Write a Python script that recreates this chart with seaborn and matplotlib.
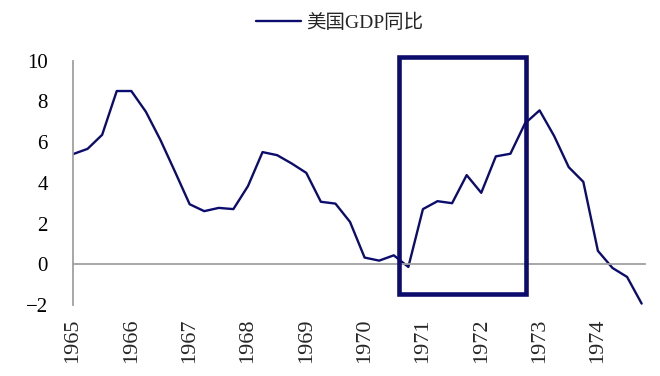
#!/usr/bin/env python
# filename: plot.py

import numpy as np
import pandas as pd

import matplotlib
matplotlib.use('Agg')
import matplotlib.pyplot as plt
from matplotlib.patches import Rectangle
import seaborn as sns

# quarterly US GDP yoy, 1965Q1 - 1974Q4
years = [str(y) for y in range(1965, 1975)]
gdp_yoy = [5.41, 5.67, 6.36, 8.51, 8.51, 7.49, 6.10, 4.54,
           2.95, 2.61, 2.77, 2.71, 3.84, 5.51, 5.36, 4.95,
           4.49, 3.07, 2.98, 2.08, 0.33, 0.18, 0.44, -0.13,
           2.71, 3.10, 3.00, 4.38, 3.51, 5.30, 5.43, 6.92,
           7.56, 6.30, 4.77, 4.05, 0.66, -0.18, -0.62, -1.93]
series_name = '美国GDP同比'

# highlight box (in quarter index / value units)
box_x = [22.35, 31.07]
box_y = [-1.44, 10.2]

navy = '#0c0c6e'
grey = '#a0a0a0'

df = pd.DataFrame({'q': np.arange(len(gdp_yoy)), 'v': gdp_yoy})

sns.set_style('white')
plt.rcParams['font.family'] = ['Liberation Serif', 'Noto Sans CJK SC']
plt.rcParams['axes.unicode_minus'] = True

fig = plt.figure(figsize=(6.6, 3.76), dpi=100)
ax = fig.add_axes([0.1106, 0.1888, 0.866, 0.6498])

sns.lineplot(data=df, x='q', y='v', ax=ax, color=navy, linewidth=1.7, label=series_name)

ax.set_xlim(0, len(gdp_yoy) - 1 + 0.2)
ax.set_ylim(-2, 10)
ax.set_yticks(range(-2, 11, 2))
ax.set_yticklabels([f'{t}'.replace('-', '\u2212') for t in range(-2, 11, 2)], fontsize=15)
ax.set_xlabel('')
ax.set_ylabel('')

# spines: y axis on left, x axis sits on zero
for s in ['top', 'right']:
    ax.spines[s].set_visible(False)
ax.spines['left'].set_color(grey)
ax.spines['left'].set_linewidth(1.3)
ax.spines['bottom'].set_position(('data', 0))
ax.spines['bottom'].set_color(grey)
ax.spines['bottom'].set_linewidth(1.3)
ax.tick_params(axis='y', direction='out', length=5, width=1.3, color=grey, pad=13, labelcolor='black')
ax.tick_params(axis='x', direction='out', length=5, width=1.3, color=grey, labelbottom=False)
ax.set_xticks(np.arange(0, len(gdp_yoy), 4))

# year labels at the bottom of the axes
sec = ax.secondary_xaxis(0)
sec.set_xticks(np.arange(0, len(gdp_yoy), 4))
sec.set_xticklabels(years, rotation=90, fontsize=16)
sec.tick_params(length=0, pad=10)
sec.spines['bottom'].set_visible(False)

ax.add_patch(Rectangle((box_x[0], box_y[0]), box_x[1] - box_x[0], box_y[1] - box_y[0],
                       fill=False, edgecolor=navy, linewidth=3.3, clip_on=False, zorder=5))

ax.get_legend().remove()
h, l = ax.get_legend_handles_labels()
fig.legend(h, l, loc='upper center', bbox_to_anchor=(0.515, 1.01), frameon=False,
           handlelength=2.3, handletextpad=0.3,
           prop={'family': ['Liberation Serif', 'Noto Sans CJK SC'], 'size': 14})

fig.savefig('out.png', dpi=100)
